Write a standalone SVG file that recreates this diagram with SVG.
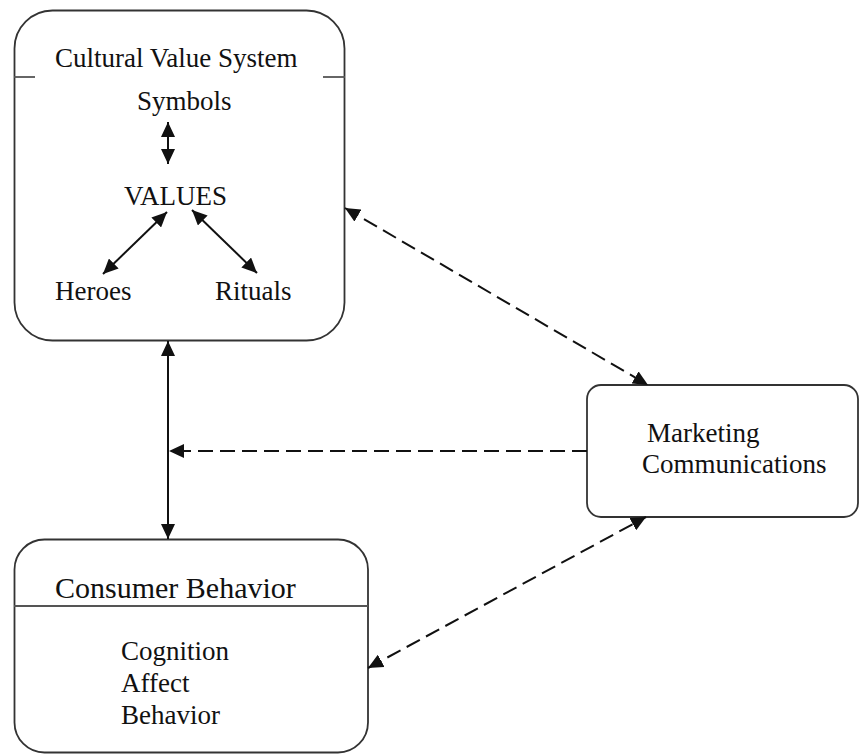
<svg xmlns="http://www.w3.org/2000/svg" width="860" height="754" viewBox="0 0 860 754">
<style>
.box{fill:#fff;stroke:#333;stroke-width:1.8}
.sep{stroke:#555;stroke-width:1.8}
.t{font-family:"Liberation Serif","Times New Roman",serif;font-size:27px;fill:#111}
.big{font-size:30px}
.c{stroke:#111;stroke-width:2;fill:none}
.d{stroke-dasharray:15 7}
</style>
<defs>
<marker id="ah" markerUnits="userSpaceOnUse" markerWidth="15" markerHeight="14" refX="15" refY="7" orient="auto-start-reverse">
<path d="M0,0 L15,7 L0,14 z" fill="#111"/>
</marker>
</defs>
<rect width="860" height="754" fill="#fff"/>
<g id="culture">
<rect class="box" x="14.5" y="10.5" width="330" height="330" rx="38"/>
<line class="sep" x1="14" y1="77" x2="35" y2="77"/>
<line class="sep" x1="323" y1="77" x2="345" y2="77"/>
<text class="t" x="55" y="67">Cultural Value System</text>
<text class="t" x="137" y="110">Symbols</text>
<text class="t" x="124" y="205">VALUES</text>
<text class="t" x="55" y="300">Heroes</text>
<text class="t" x="215" y="300">Rituals</text>
</g>
<g id="consumer">
<rect class="box" x="14.5" y="539.5" width="353.5" height="213" rx="30"/>
<line class="sep" x1="14" y1="606" x2="368" y2="606"/>
<text class="t big" x="55" y="598">Consumer Behavior</text>
<text class="t" x="121" y="660">Cognition</text>
<text class="t" x="121" y="692">Affect</text>
<text class="t" x="121" y="724">Behavior</text>
</g>
<g id="marketing">
<rect class="box" x="587" y="385" width="271" height="132" rx="14"/>
<text class="t" x="647" y="442">Marketing</text>
<text class="t" x="642" y="473">Communications</text>
</g>
<g id="connectors">
<line class="c" x1="168" y1="122" x2="168" y2="164" marker-start="url(#ah)" marker-end="url(#ah)"/>
<line class="c" x1="167" y1="212" x2="103" y2="274" marker-start="url(#ah)" marker-end="url(#ah)"/>
<line class="c" x1="192" y1="210" x2="257" y2="273" marker-start="url(#ah)" marker-end="url(#ah)"/>
<line class="c" x1="168" y1="341" x2="168" y2="539" marker-start="url(#ah)" marker-end="url(#ah)"/>
<line class="c d" x1="587" y1="451" x2="169" y2="451" marker-end="url(#ah)"/>
<line class="c d" x1="345" y1="208" x2="648" y2="385" marker-start="url(#ah)" marker-end="url(#ah)"/>
<line class="c d" x1="368" y1="668" x2="646" y2="517" marker-start="url(#ah)" marker-end="url(#ah)"/>
</g>
</svg>
